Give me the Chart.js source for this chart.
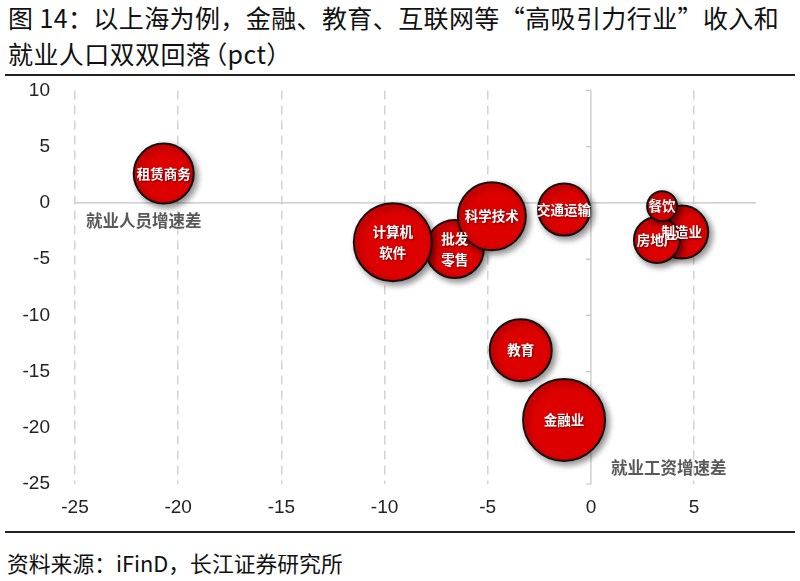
<!DOCTYPE html>
<html>
<head>
<meta charset="utf-8">
<script src="https://cdn.jsdelivr.net/npm/chart.js@4.4.1/dist/chart.umd.min.js"></script>
<style>
  body { margin: 0; background: #fff; width: 800px; height: 581px; overflow: hidden; position: relative;
         font-family: "Noto Sans CJK SC", "Noto Sans", sans-serif; }
  #title { position: absolute; left: 8px; top: -1px; font-size: 25px; line-height: 36px; color: #111;
           white-space: nowrap; letter-spacing: 0.4px; }
  #title .np1 { margin-left: -9px; }
  .rule { position: absolute; left: 5px; width: 790px; height: 2px; background: #222; }
  #source { position: absolute; left: 7px; top: 547px; font-size: 21.8px; color: #111; white-space: nowrap; }
  .axis-name { position: absolute; font-weight: bold; font-size: 16.5px; color: #595959; white-space: nowrap; }
  #box { position: absolute; left: 0; top: 62px; width: 800px; height: 468px; }
</style>
</head>
<body>
<div id="title">图 14：以上海为例，金融、教育、互联网等“高吸引力行业”收入和<br>就业人口双双回落<span class="np1">（</span>pct）</div>
<div class="rule" style="top:74px"></div>
<div id="box"><canvas id="bubbleChart"></canvas></div>
<div class="axis-name" style="left:86px;top:208px">就业人员增速差</div>
<div class="axis-name" style="left:611px;top:455px">就业工资增速差</div>
<div class="rule" style="top:531px"></div>
<div id="source">资料来源：iFinD，长江证券研究所</div>

<script>
// Branchen (Reihenfolge = Zeichenreihenfolge)
const industries = ['租赁商务', '批发\n零售', '计算机\n软件', '科学技术', '交通运输', '制造业', '房地产', '餐饮', '教育', '金融业'];
// x: 就业工资增速差 (pct)
const wageGap = [-20.7, -6.6, -9.6, -4.8, -1.3, 4.4, 3.2, 3.45, -3.4, -1.3];
// y: 就业人员增速差 (pct)
const employGap = [2.6, -4.1, -3.5, -1.2, -0.6, -2.6, -3.3, -0.3, -13.1, -19.3];
// Blasengröße
const bubbleSize = [30, 29, 39, 34, 26, 26.5, 23, 15, 31, 41];
const xTicks = [-25, -20, -15, -10, -5, 0, 5];
const yTicks = [10, 5, 0, -5, -10, -15, -20, -25];

const points = industries.map(function(name, i) {
    return { x: wageGap[i], y: employGap[i], r: bubbleSize[i], name: name };
});

// Nulllinien, Schatten und Beschriftung
const bubbleDecor = {
    id: 'bubbleDecor',
    beforeDatasetsDraw(chart) {
        const ctx = chart.ctx;
        const xs = chart.scales.x, ys = chart.scales.y;
        const area = chart.chartArea;
        const x0 = xs.getPixelForValue(0), y0 = ys.getPixelForValue(0);
        ctx.save();
        ctx.strokeStyle = '#c4c4c4';
        ctx.lineWidth = 1.2;
        ctx.beginPath();
        ctx.moveTo(x0, area.top); ctx.lineTo(x0, area.bottom);
        ctx.moveTo(area.left, y0); ctx.lineTo(area.right, y0);
        yTicks.forEach(function(v) {
            const py = ys.getPixelForValue(v);
            ctx.moveTo(x0 - 5, py); ctx.lineTo(x0, py);
        });
        ctx.stroke();
        ctx.restore();

        ctx.save();
        ctx.shadowColor = 'rgba(0, 0, 0, 0.45)';
        ctx.shadowBlur = 6;
        ctx.shadowOffsetX = 3;
        ctx.shadowOffsetY = 3;
    },
    afterDatasetsDraw(chart) {
        const ctx = chart.ctx;
        ctx.restore();
        const meta = chart.getDatasetMeta(0);
        ctx.save();
        ctx.font = 'bold 13.5px "Noto Sans CJK SC", sans-serif';
        ctx.fillStyle = '#fff';
        ctx.textAlign = 'center';
        ctx.textBaseline = 'middle';
        ctx.shadowColor = 'rgba(0, 0, 0, 0.5)';
        ctx.shadowBlur = 2;
        ctx.shadowOffsetX = 1;
        ctx.shadowOffsetY = 1;
        meta.data.forEach(function(el, i) {
            const lines = industries[i].split('\n');
            const lh = 21;
            lines.forEach(function(line, k) {
                ctx.fillText(line, el.x, el.y + (k - (lines.length - 1) / 2) * lh);
            });
        });
        ctx.restore();
    }
};

const config = {
    type: 'bubble',
    data: {
        datasets: [{
            data: points,
            backgroundColor: '#dd0000',
            borderColor: '#111',
            borderWidth: 2,
            hoverBorderWidth: 2,
            clip: false
        }]
    },
    options: {
        responsive: true,
        maintainAspectRatio: false,
        animation: false,
        layout: {
            autoPadding: false,
            padding: { top: 9, right: 44, bottom: 0, left: 0 }
        },
        plugins: {
            legend: { display: false },
            tooltip: { enabled: false }
        },
        scales: {
            x: {
                type: 'linear',
                min: -25,
                max: 8,
                afterBuildTicks: function(scale) {
                    scale.ticks = xTicks.map(function(v) { return { value: v }; });
                },
                afterFit: function(scale) { scale.height = 46; },
                grid: {
                    drawTicks: false,
                    lineWidth: 1.5,
                    color: function(c) {
                        return c.tick && c.tick.value === 0 ? 'rgba(0,0,0,0)' : '#d3d3d3';
                    }
                },
                border: { display: false, dash: [9, 6] },
                ticks: {
                    padding: 12,
                    color: '#222',
                    font: { family: '"Liberation Sans", Arial, sans-serif', size: 19 }
                }
            },
            y: {
                type: 'linear',
                min: -25,
                max: 10,
                afterBuildTicks: function(scale) {
                    scale.ticks = yTicks.map(function(v) { return { value: v }; });
                },
                afterFit: function(scale) { scale.width = 75; },
                grid: { display: false },
                border: { display: false },
                ticks: {
                    padding: 17,
                    color: '#222',
                    font: { family: '"Liberation Sans", Arial, sans-serif', size: 19 }
                }
            }
        }
    },
    plugins: [bubbleDecor]
};

new Chart(document.getElementById('bubbleChart'), config);
</script>
</body>
</html>
